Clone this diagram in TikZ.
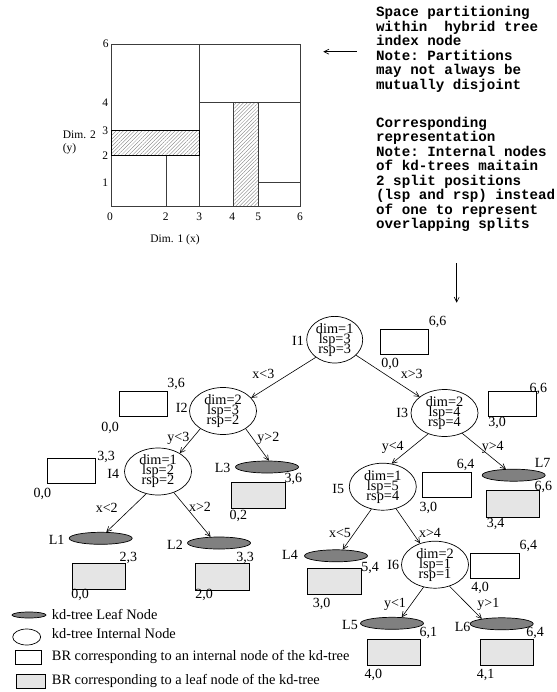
\documentclass[tikz,border=0pt]{standalone}
\usepackage{fontspec}
\setmainfont{Liberation Serif}
\setmonofont{Liberation Mono}
\usetikzlibrary{shapes.geometric,arrows.meta,patterns.meta}
\definecolor{leafgray}{RGB}{128,128,128}
\definecolor{leafbox}{RGB}{229,229,229}
\definecolor{gridline}{RGB}{60,60,60}
\definecolor{hatch}{RGB}{120,120,120}
\begin{document}
\begin{tikzpicture}[x=1pt,y=-1pt,
  inode/.style={ellipse, draw, line width=0.7pt, minimum width=67pt, minimum height=47pt,
    inner sep=0pt, align=center, font={\fontsize{14.3}{10}\selectfont\lineskiplimit=-20pt}},
  leaf/.style={ellipse, draw, line width=0.7pt, fill=leafgray, minimum width=63pt, minimum height=12pt, inner sep=0pt},
  ibox/.style={rectangle, draw, line width=0.7pt, minimum width=48.5pt, minimum height=25pt, inner sep=0pt},
  lbox/.style={ibox, fill=leafbox, minimum width=53.5pt, minimum height=26.5pt},
  lab/.style={font=\fontsize{14}{16}\selectfont, inner sep=0pt, text height=9.2pt, text depth=0pt},
  klab/.style={font=\fontsize{14.4}{16}\selectfont, inner sep=0pt, text height=9.4pt, text depth=0pt, anchor=west},
  glab/.style={font=\fontsize{11.5}{13}\selectfont, inner sep=0pt, text height=7.6pt, text depth=0pt},
  mono/.style={font=\fontsize{14.2}{14.4}\selectfont\ttfamily\bfseries, inner sep=0pt, anchor=base west},
  conn/.style={draw, line width=0.6pt, -{Straight Barb[length=5pt,width=5pt]}},
  gline/.style={draw=gridline, line width=0.8pt}
]
\useasboundingbox (0,0) rectangle (556,692);

% ---------- grid ----------
\path[gline] (111.7,44) rectangle (300.7,206.7);
\path[gline] (199.3,44) -- (199.3,206.7);
\path[gline] (199.3,102.7) -- (300.7,102.7);
\path[gline] (166,155.3) -- (166,206.7);
\path[gline] (258.7,182.3) -- (300.7,182.3);
\draw[line width=1.3pt, pattern={Lines[angle=45,distance=2.6pt,line width=0.35pt]}, pattern color=hatch]
  (111.7,130.3) rectangle (199.3,155.3);
\draw[draw=gridline, line width=0.9pt, pattern={Lines[angle=45,distance=2.6pt,line width=0.35pt]}, pattern color=hatch]
  (233.3,102.7) rectangle (258.7,206.7);

\node[glab] (gy6) at (105.7,44) {6};
\node[glab] (gy4) at (105.3,103) {4};
\node[glab] (gy3) at (105.3,130.5) {3};
\node[glab] (gy2) at (105.3,155.5) {2};
\node[glab] (gy1) at (105.3,182.5) {1};
\node[glab] (gx0) at (110,217) {0};
\node[glab] (gx2) at (165.7,217) {2};
\node[glab] (gx3) at (199.3,217) {3};
\node[glab] (gx4) at (232.3,217) {4};
\node[glab] (gx5) at (258.3,217) {5};
\node[glab] (gx6) at (300,217) {6};
\node[glab, anchor=west] (dim2) at (62.7,134.3) {Dim. 2};
\node[glab, anchor=west] (dimy) at (62.7,147.3) {(y)};
\node[glab] (dim1) at (175,239) {Dim. 1 (x)};

% ---------- right texts ----------
\foreach \t [count=\i] in {Space partitioning,within\ \ hybrid tree,index node,Note: Partitions,may not always be,mutually disjoint}
  \node[mono] (ta\i) at (376,{16.8+14.45*(\i-1)}) {\t};
\foreach \t [count=\i] in {Corresponding,representation,Note: Internal nodes,of kd-trees maitain,2 split positions,(lsp and rsp) instead,of one to represent,overlapping splits}
  \node[mono] (tb\i) at (376,{127.5+14.45*(\i-1)}) {\t};

\coordinate (la0) at (356.7,51.7);
\coordinate (la1) at (323.3,51.7);
\draw[conn] (la0) -- (la1);
\coordinate (da0) at (456.7,263);
\coordinate (da1) at (456.7,302.7);
\draw[conn] (da0) -- (da1);

% ---------- tree nodes ----------
\node[inode, minimum width=56pt, minimum height=39pt] (I1) at (334.7,339.7) {dim=1\\lsp=3\\rsp=3};
\node[inode] (I2) at (223,411) {dim=2\\lsp=3\\rsp=2};
\node[inode] (I3) at (444.5,413) {dim=2\\lsp=4\\rsp=4};
\node[inode] (I4) at (158,471.5) {dim=1\\lsp=2\\rsp=2};
\node[inode] (I5) at (382.8,486.7) {dim=1\\lsp=5\\rsp=4};
\node[inode] (I6) at (435,564.7) {dim=2\\lsp=1\\rsp=1};

\node[leaf] (L1) at (100.7,538.3) {};
\node[leaf] (L2) at (219,543) {};
\node[leaf] (L3) at (267,467) {};
\node[leaf] (L4) at (336,555.8) {};
\node[leaf] (L5) at (392,623.3) {};
\node[leaf] (L6) at (501.7,623.8) {};
\node[leaf] (L7) at (513.7,475.2) {};

% BR boxes
\node[ibox] (B1) at (404.2,341.7) {};
\node[ibox] (B2) at (143.3,403.8) {};
\node[ibox] (B3) at (512.5,404.2) {};
\node[ibox] (B4) at (71.2,470.5) {};
\node[ibox] (B5) at (446.8,485) {};
\node[ibox] (B6) at (494.7,565.8) {};
\node[lbox] (C1) at (98.7,576.3) {};
\node[lbox] (C2) at (222.5,576.7) {};
\node[lbox] (C3) at (258.3,495.5) {};
\node[lbox] (C4) at (334.5,581.2) {};
\node[lbox] (C5) at (394,652.3) {};
\node[lbox] (C6) at (506.7,652.3) {};
\node[lbox] (C7) at (513,504) {};

% edges
\draw[conn] (I1.-137) -- (I2.25);
\draw[conn] (I1.-36) -- (I3.147);
\draw[conn] (I2.-142) -- (I4.40);
\draw[conn] (I2.-38) -- (L3.73);
\draw[conn] (I3.-128) -- (I5.69);
\draw[conn] (I3.-49) -- (L7.142);
\draw[conn] (I4.-118) -- (L1.48);
\draw[conn] (I4.-53) -- (L2.144);
\draw[conn] (I5.-117) -- (L4.43);
\draw[conn] (I5.-59) -- (I6.125);
\draw[conn] (I6.-117) -- (L5.32);
\draw[conn] (I6.-56) -- (L6.166);

% labels
\node[lab] (nI1) at (298,341) {I1};
\node[lab] (nI2) at (181.7,408.3) {I2};
\node[lab] (nI3) at (402.3,412.7) {I3};
\node[lab] (nI4) at (113.3,474) {I4};
\node[lab] (nI5) at (338.3,489.3) {I5};
\node[lab] (nI6) at (393.3,565) {I6};
\node[lab] (nL1) at (56.7,540) {L1};
\node[lab] (nL2) at (175,545) {L2};
\node[lab] (nL3) at (222.7,468.3) {L3};
\node[lab] (nL4) at (290,555) {L4};
\node[lab] (nL5) at (350,625) {L5};
\node[lab] (nL6) at (462.7,626.7) {L6};
\node[lab] (nL7) at (542.7,463.3) {L7};

\node[lab] (e1) at (263.3,374) {x<3};
\node[lab] (e2) at (411.7,374.3) {x>3};
\node[lab] (e3) at (178.3,437.3) {y<3};
\node[lab] (e4) at (268.3,437.3) {y>2};
\node[lab] (e5) at (392.7,446) {y<4};
\node[lab] (e6) at (492.7,446) {y>4};
\node[lab] (e7) at (106.7,507.7) {x<2};
\node[lab] (e8) at (200,506.7) {x>2};
\node[lab] (e9) at (340,532.7) {x<5};
\node[lab] (e10) at (430,532.7) {x>4};
\node[lab] (e11) at (395,603.3) {y<1};
\node[lab] (e12) at (488.3,603.3) {y>1};

\node[lab] (b1a) at (437.7,321) {6,6};
\node[lab] (b1b) at (390,362.7) {0,0};
\node[lab] (b2a) at (176,383.3) {3,6};
\node[lab] (b2b) at (110,426.7) {0,0};
\node[lab] (b3a) at (538.3,387.7) {6,6};
\node[lab] (b3b) at (497,421.7) {3,0};
\node[lab] (b4a) at (106,455.7) {3,3};
\node[lab] (b4b) at (42.3,492.7) {0,0};
\node[lab] (b5a) at (465.7,464.3) {6,4};
\node[lab] (b5b) at (428.3,507.3) {3,0};
\node[lab] (b6a) at (528.3,545) {6,4};
\node[lab] (b6b) at (480,586.7) {4,0};
\node[lab] (c1a) at (128.3,557.3) {2,3};
\node[lab] (c1b) at (80,594) {0,0};
\node[lab] (c2a) at (245,557.3) {3,3};
\node[lab] (c2b) at (204,594) {2,0};
\node[lab] (c3a) at (293.3,478.3) {3,6};
\node[lab] (c3b) at (238.3,515) {0,2};
\node[lab] (c4a) at (370,566.7) {5,4};
\node[lab] (c4b) at (321.7,602.7) {3,0};
\node[lab] (c5a) at (428.3,632.3) {6,1};
\node[lab] (c5b) at (373.3,674) {4,0};
\node[lab] (c6a) at (535,632.3) {6,4};
\node[lab] (c6b) at (485.7,674) {4,1};
\node[lab] (c7a) at (543.3,486) {6,6};
\node[lab] (c7b) at (495.7,523.3) {3,4};

% ---------- legend ----------
\node[leaf, minimum width=34pt, minimum height=6pt] (kl) at (29,615) {};
\node[ellipse, draw, line width=0.7pt, minimum width=28pt, minimum height=16pt, inner sep=0pt] (ki) at (26.7,637) {};
\node[ibox, minimum width=25.3pt, minimum height=14pt] (kb) at (28.3,657) {};
\node[lbox, minimum width=28.3pt, minimum height=14pt] (kg) at (30.8,681) {};
\node[klab] (kt1) at (51.7,615) {kd-tree Leaf Node};
\node[klab] (kt2) at (51.7,634) {kd-tree Internal Node};
\node[klab] (kt3) at (51.7,655.5) {BR corresponding to an internal node of the kd-tree};
\node[klab] (kt4) at (51.7,680) {BR corresponding to a leaf node of the kd-tree};
\end{tikzpicture}
\end{document}
